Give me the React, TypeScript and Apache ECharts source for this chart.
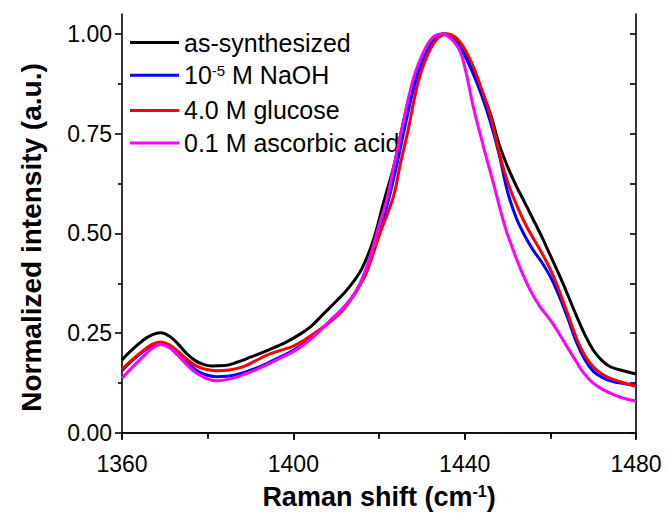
import React, { useEffect, useRef } from "react";
import * as echarts from "echarts";

const xTicks = [1360, 1400, 1440, 1480];
const yMajorTicks = [0, 0.25, 0.5, 0.75, 1.0];
const yMinorTicks = [0.125, 0.375, 0.625, 0.875];
const yAllTicks = [0, 0.125, 0.25, 0.375, 0.5, 0.625, 0.75, 0.875, 1.0];

const seriesNames = ["as-synthesized", "10-5 M NaOH", "4.0 M glucose", "0.1 M ascorbic acid"];
const seriesColors = ["#000000", "#0000ff", "#ff0000", "#ff00ff"];

const asSynthesized: [number, number][] = [
  [1360, 0.183], [1362, 0.205], [1365, 0.233], [1367, 0.246], [1369, 0.251], [1371, 0.243],
  [1373, 0.224], [1375, 0.2], [1377, 0.182], [1379, 0.172], [1381, 0.168], [1384, 0.169],
  [1387, 0.178], [1390, 0.19], [1394, 0.207], [1398, 0.226], [1401, 0.244], [1404, 0.266],
  [1407, 0.298], [1410, 0.33], [1413, 0.365], [1416, 0.412], [1418.7, 0.484], [1421, 0.575],
  [1423.5, 0.67], [1425.3, 0.76], [1427, 0.84], [1428.6, 0.9], [1430, 0.94], [1432, 0.978],
  [1434, 0.997], [1435.5, 1.0], [1437, 0.996], [1438.5, 0.98], [1440, 0.952], [1442, 0.905],
  [1444, 0.855], [1446, 0.8], [1448, 0.725], [1450, 0.668], [1452, 0.62], [1454, 0.578],
  [1456, 0.535], [1458, 0.492], [1460, 0.445], [1462, 0.398], [1464, 0.348], [1466, 0.296],
  [1468, 0.248], [1470, 0.208], [1472, 0.182], [1474, 0.166], [1477, 0.156], [1480, 0.148],
];

const naoh: [number, number][] = [
  [1360, 0.156], [1362, 0.178], [1365, 0.205], [1367, 0.219], [1369, 0.225], [1371, 0.218],
  [1373, 0.2], [1375, 0.178], [1377, 0.16], [1379, 0.148], [1382, 0.141], [1385, 0.143],
  [1388, 0.15], [1391, 0.161], [1394, 0.175], [1397, 0.191], [1400, 0.207], [1403, 0.228],
  [1406, 0.255], [1409, 0.285], [1412, 0.317], [1415, 0.36], [1418, 0.435], [1420, 0.5],
  [1422, 0.575], [1424, 0.665], [1426, 0.765], [1428, 0.86], [1430, 0.93], [1432, 0.975],
  [1433.5, 0.995], [1435, 1.0], [1436.5, 0.995], [1438, 0.978], [1440, 0.945], [1442, 0.9],
  [1444, 0.845], [1446, 0.78], [1448, 0.7], [1450, 0.605], [1452, 0.54], [1454, 0.495],
  [1456, 0.458], [1458, 0.428], [1460, 0.392], [1462, 0.345], [1464, 0.29], [1466, 0.23],
  [1468, 0.185], [1470, 0.155], [1472, 0.14], [1474, 0.131], [1477, 0.124], [1480, 0.12],
];

const glucose: [number, number][] = [
  [1360, 0.159], [1362, 0.18], [1365, 0.207], [1367, 0.222], [1369, 0.228], [1371, 0.221],
  [1373, 0.205], [1375, 0.186], [1377, 0.17], [1379, 0.161], [1382, 0.156], [1385, 0.158],
  [1388, 0.165], [1391, 0.18], [1394, 0.196], [1397, 0.207], [1400, 0.218], [1403, 0.236],
  [1406, 0.258], [1409, 0.282], [1412, 0.313], [1415, 0.362], [1417, 0.4], [1420.2, 0.5],
  [1423.3, 0.59], [1425, 0.675], [1426.8, 0.759], [1428.5, 0.85], [1430, 0.91], [1432, 0.962],
  [1434, 0.992], [1436, 1.0], [1438, 0.99], [1440, 0.962], [1442, 0.918], [1444, 0.86],
  [1446, 0.795], [1448.3, 0.692], [1450, 0.63], [1451.4, 0.59], [1453, 0.55], [1454.5, 0.517],
  [1456, 0.488], [1457.6, 0.459], [1460, 0.41], [1462.3, 0.35], [1464, 0.3], [1466.2, 0.235],
  [1468, 0.195], [1470, 0.166], [1472, 0.148], [1474, 0.137], [1477, 0.126], [1480, 0.117],
];

const ascorbic: [number, number][] = [
  [1360, 0.137], [1362, 0.16], [1365, 0.192], [1367, 0.212], [1369, 0.222], [1371, 0.214],
  [1373, 0.195], [1375, 0.172], [1377, 0.153], [1379, 0.14], [1382, 0.131], [1385, 0.135],
  [1388, 0.145], [1391, 0.157], [1394, 0.172], [1397, 0.188], [1400, 0.204], [1403, 0.226],
  [1406, 0.254], [1409, 0.286], [1412, 0.318], [1415, 0.362], [1418, 0.445], [1420, 0.52],
  [1421.8, 0.584], [1423.5, 0.67], [1425.3, 0.759], [1427, 0.845], [1428.4, 0.901], [1430, 0.945],
  [1431.5, 0.977], [1433, 0.995], [1434.6, 1.0], [1436, 0.995], [1437.5, 0.98], [1439, 0.955],
  [1440.5, 0.895], [1442, 0.818], [1444.4, 0.717], [1446.7, 0.626], [1449.4, 0.517], [1451, 0.468],
  [1453, 0.412], [1455.3, 0.358], [1457.5, 0.318], [1460, 0.283], [1462, 0.25], [1463.9, 0.216],
  [1466, 0.18], [1467.8, 0.15], [1470, 0.125], [1472.4, 0.108], [1475, 0.095], [1477.5, 0.086],
  [1480, 0.08],
];

const seriesData = [asSynthesized, naoh, glucose, ascorbic];

const FONT = "'Liberation Sans', Arial, sans-serif";

export default function App() {
  const ref = useRef<HTMLDivElement>(null);
  useEffect(() => {
    document.body.style.margin = "0";
    if (!ref.current) return;
    const chart = echarts.init(ref.current, undefined, { renderer: "svg" });
    const axisLine = { show: true, lineStyle: { color: "#000", width: 1.6 } };
    const tickStyle = { color: "#000", width: 1.6 };
    chart.setOption({
      animation: false,
      backgroundColor: "#ffffff",
      grid: { left: 122, right: 31, top: 14, bottom: 82, containLabel: false },
      legend: {
        orient: "vertical",
        left: 130,
        top: 30,
        padding: 0,
        icon: "rect",
        itemWidth: 49,
        itemHeight: 3,
        itemTextGap: 5,
        itemGap: 7.7,
        data: seriesNames,
        formatter: (name: string) => (name === "10-5 M NaOH" ? "10{sup|-5} M NaOH" : name),
        textStyle: {
          fontFamily: FONT,
          fontSize: 25,
          color: "#000",
          lineHeight: 24,
          rich: {
            sup: { fontFamily: FONT, fontSize: 15, color: "#000", verticalAlign: "top", lineHeight: 24, padding: [0, 0, 12, 0] },
          },
        },
      },
      xAxis: [
        {
          type: "value",
          position: "bottom",
          min: 1360,
          max: 1480,
          interval: 40,
          axisLine,
          axisTick: { show: true, inside: false, length: 7, lineStyle: tickStyle },
          minorTick: { show: true, splitNumber: 2, length: 4, lineStyle: tickStyle },
          splitLine: { show: false },
          minorSplitLine: { show: false },
          axisLabel: {
            color: "#000",
            fontFamily: FONT,
            fontSize: 23,
            margin: 19,
            formatter: (v: number) => String(v),
          },
          name: "Raman shift (cm{sup|-1})",
          nameLocation: "middle",
          nameGap: 50,
          nameTextStyle: {
            fontFamily: FONT,
            fontSize: 27,
            fontWeight: "bold",
            color: "#000",
            rich: { sup: { fontFamily: FONT, fontSize: 16, fontWeight: "bold", color: "#000", verticalAlign: "top", padding: [0, 0, 10, 0] } },
          },
        },
        {
          type: "value",
          position: "top",
          min: 1360,
          max: 1480,
          interval: 20,
          axisLine,
          axisTick: { show: true, inside: true, length: 6, lineStyle: tickStyle },
          axisLabel: { show: false },
          splitLine: { show: false },
        },
      ],
      yAxis: [
        {
          type: "value",
          position: "left",
          min: 0,
          max: 1.05,
          axisLine,
          axisTick: { show: true, inside: false, length: 7, lineStyle: tickStyle, customValues: yMajorTicks },
          axisLabel: {
            color: "#000",
            fontFamily: FONT,
            fontSize: 23,
            margin: 10,
            customValues: yMajorTicks,
            formatter: (v: number) => v.toFixed(2),
          },
          splitLine: { show: false },
          name: "Normalized intensity (a.u.)",
          nameLocation: "middle",
          nameGap: 77,
          nameTextStyle: {
            fontFamily: FONT,
            fontSize: 28,
            fontWeight: "bold",
            color: "#000",
            padding: [0, 28, 0, 0],
          },
        },
        {
          type: "value",
          position: "left",
          min: 0,
          max: 1.05,
          axisLine: { show: false },
          axisTick: { show: true, inside: false, length: 4, lineStyle: tickStyle, customValues: yMinorTicks },
          axisLabel: { show: false },
          splitLine: { show: false },
        },
        {
          type: "value",
          position: "right",
          min: 0,
          max: 1.05,
          axisLine,
          axisTick: { show: true, inside: true, length: 6, lineStyle: tickStyle, customValues: yAllTicks },
          axisLabel: { show: false },
          splitLine: { show: false },
        },
      ],
      series: seriesNames.map((name, i) => ({
        name,
        type: "line",
        xAxisIndex: 0,
        yAxisIndex: 0,
        data: seriesData[i],
        smooth: 0.4,
        symbol: "none",
        showSymbol: false,
        lineStyle: { color: seriesColors[i], width: 3 },
        itemStyle: { color: seriesColors[i] },
        z: 2 + i,
      })),
    });
    return () => chart.dispose();
  }, []);
  return <div ref={ref} style={{ width: 667, height: 515 }} />;
}
